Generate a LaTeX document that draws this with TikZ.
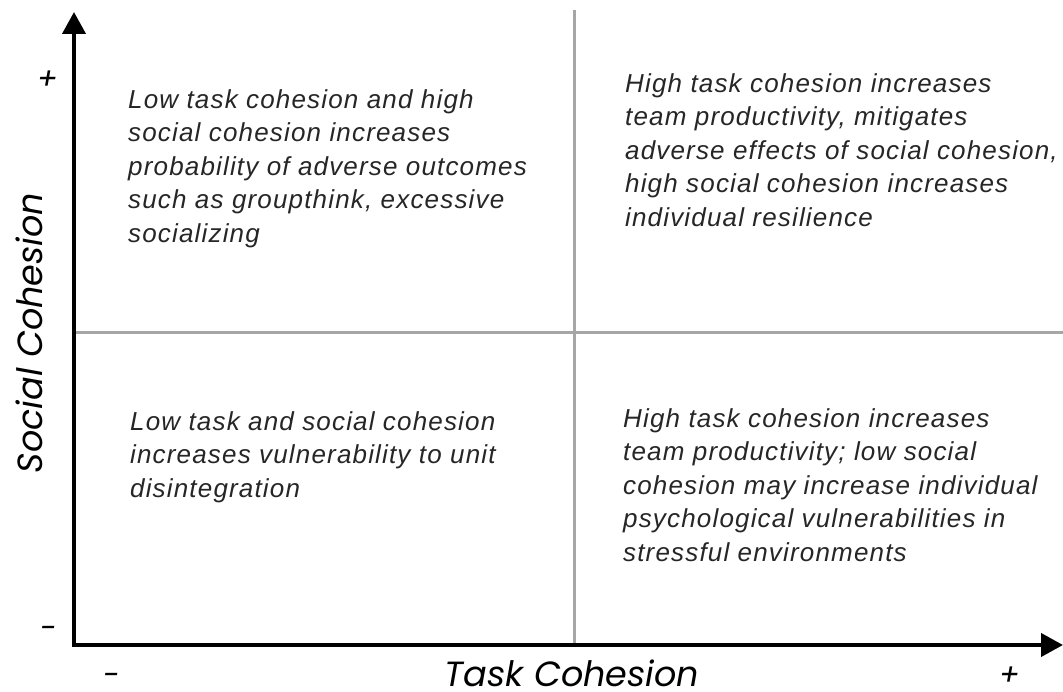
\documentclass[tikz,border=0pt]{standalone}
\usepackage{fontspec}
\setmainfont{Liberation Sans}
\newfontfamily\quadfont[LetterSpace=4.5]{Liberation Sans}
\newfontfamily\axisfont{Poppins}
\usepackage{tikz}
\usetikzlibrary{arrows.meta,positioning}
\definecolor{QText}{HTML}{262626}
\definecolor{QGrid}{HTML}{A6A6A6}

\begin{document}
\begin{tikzpicture}[x=1pt,y=-1pt,
    axisline/.style={line width=4pt,-{Triangle[length=22pt,width=23pt]}},
    gridline/.style={QGrid,line width=3pt},
    quadtext/.style={anchor=north west,inner sep=0pt,align=left,text=QText,
      font=\quadfont\fontsize{26}{33.5}\selectfont\itshape},
    axislabel/.style={inner sep=0pt,anchor=base,text depth=0pt,
      font=\axisfont\fontsize{35}{40}\selectfont\itshape},
    signlabel/.style={inner sep=0pt,anchor=base,text depth=0pt,
      font=\axisfont\fontsize{30}{32}\selectfont\itshape}]
    \useasboundingbox (0,0) rectangle (1063,692);
    % Axes and grid points
    \coordinate (origin) at (74,645);
    \coordinate (ytop)   at (74,12);
    \coordinate (xend)   at (1063,645);
    \coordinate (vtop)   at (574,10);
    \coordinate (vbot)   at (574,645);
    \coordinate (hleft)  at (74,333);
    \coordinate (hright) at (1063,333);

    % Quadrant dividers
    \draw[gridline] (vtop) -- (vbot);
    \draw[gridline] (hleft) -- (hright);

    % Axes
    \draw[axisline] (origin) -- (ytop);
    \draw[axisline] ([xshift=-2pt]origin) -- (xend);

    % Axis labels
    \node[axislabel] (xlabel) at (572,686) {Task Cohesion};
    \node[axislabel,rotate=90] (ylabel) at (42,333) {Social Cohesion};
    \node[signlabel] (yplus)  at (48,90)   {+};
    \node[signlabel] (yminus) at (49,638)  {-};
    \node[signlabel] (xminus) at (112,685) {-};
    \node[signlabel] (xplus)  at (1010,685) {+};

    % Quadrant texts
    \node[quadtext] (topleft) at (128,89)
      {Low task cohesion and high\\social cohesion increases\\probability of adverse outcomes\\such as groupthink, excessive\\socializing};
    \node[quadtext] (topright) at (625,73)
      {High task cohesion increases\\team productivity, mitigates\\adverse effects of social cohesion,\\high social cohesion increases\\individual resilience};
    \node[quadtext] (bottomleft) at (130,411)
      {Low task and social cohesion\\increases vulnerability to unit\\disintegration};
    \node[quadtext] (bottomright) at (623,408)
      {High task cohesion increases\\team productivity; low social\\cohesion may increase individual\\psychological vulnerabilities in\\stressful environments};
\end{tikzpicture}
\end{document}
